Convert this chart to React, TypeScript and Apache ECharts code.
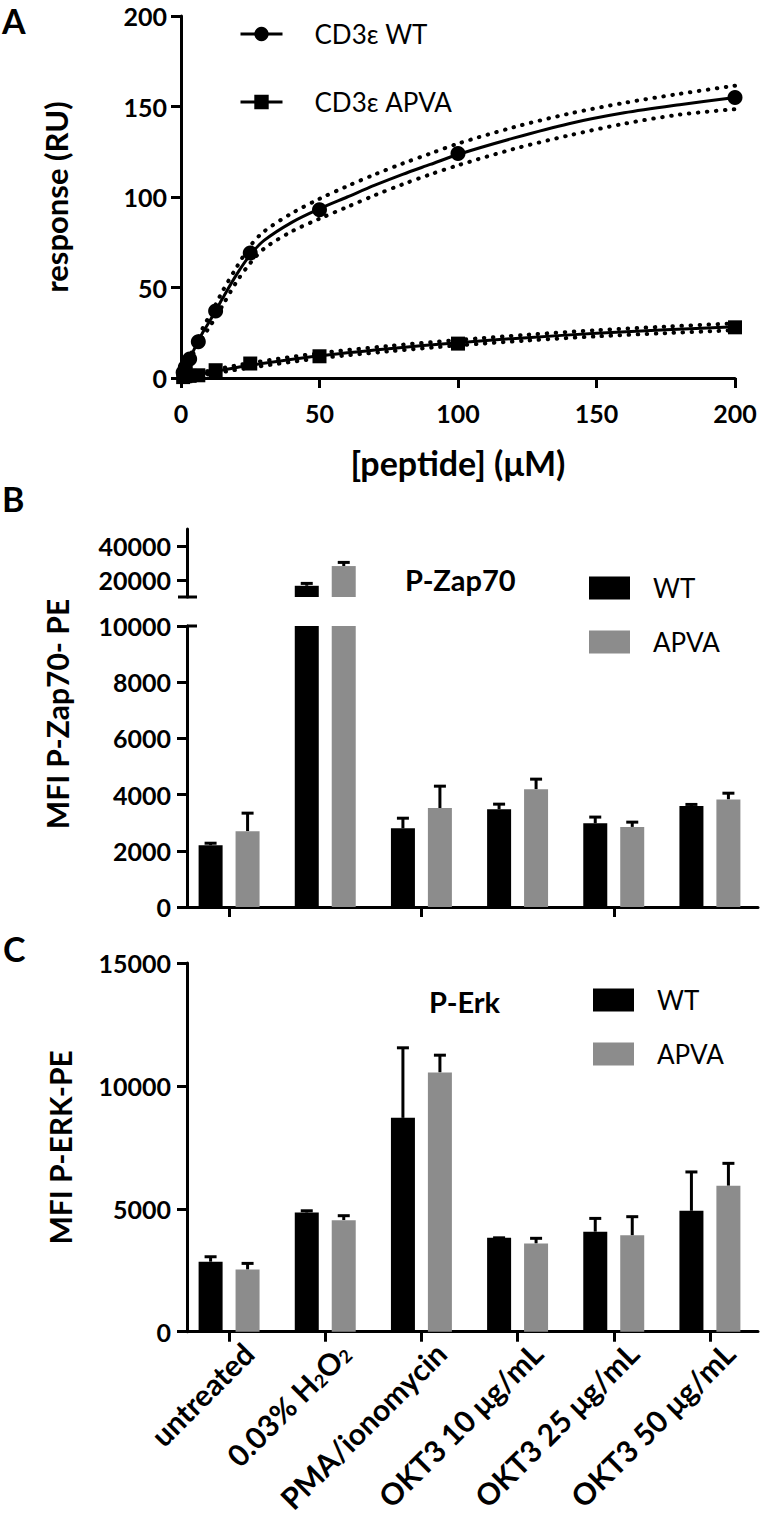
import React, { useEffect, useRef } from 'react';
import * as echarts from 'echarts';

const FONT = 'Lato';

// ---------- Panel A : binding data ----------
const concA = [0.78, 1.56, 3.125, 6.25, 12.5, 25, 50, 100, 200];
const wtResp = [3, 6, 10.5, 20, 37, 69, 93, 124, 155];
const apvaResp = [0.5, 1, 1.2, 1.5, 4.3, 8, 12, 19, 28];

// fitted curves and confidence bands
const wtFitX = [0, 1, 2, 3.125, 4.5, 6.25, 8, 10, 12.5, 15, 20, 25, 30, 40, 50, 60, 70, 80, 90, 100, 120, 140, 160, 180, 200];
const wtFit = [0, 3.5, 7, 10.5, 15, 20.5, 25.5, 30.5, 37, 44, 57, 68, 76, 86, 93.5, 100, 106.5, 112.5, 118, 123.5, 132.5, 140.5, 146.5, 151, 155];
const wtFitHi = [0, 4, 8, 11.5, 16.5, 22.5, 28, 33.5, 40.5, 48, 61, 73, 81, 91, 99, 106, 112.5, 118.5, 124, 129.5, 138.5, 146, 152, 157, 161.5];
const wtFitLo = [0, 3, 6, 9.5, 13.5, 18.5, 23, 27.5, 33.5, 40, 53, 63.5, 71.5, 81, 88, 94.5, 101, 107, 112.5, 117.5, 126.5, 134, 140.5, 145.5, 148.5];

const apvaFitX = [0, 6.25, 12.5, 25, 50, 75, 100, 125, 150, 175, 200];
const apvaFit = [0, 1.9, 3.7, 7, 12.3, 16.2, 19.5, 22.3, 24.7, 26.6, 28.3];
const apvaFitHi = [0, 2.6, 4.7, 8.3, 13.7, 17.7, 21, 23.9, 26.4, 28.4, 30.2];
const apvaFitLo = [0, 1.2, 2.7, 5.7, 10.9, 14.7, 18, 20.7, 23, 24.8, 26.4];

const ticksA = [0, 50, 100, 150, 200];

// ---------- Panels B and C ----------
const categories = ['untreated', '0.03% H2O2', 'PMA/ionomycin', 'OKT3 10 μg/mL', 'OKT3 25 μg/mL', 'OKT3 50 μg/mL'];

const zapWT = [2200, 16600, 2800, 3480, 2980, 3590];
const zapWTErr = [70, 1400, 360, 180, 220, 60];
const zapAPVA = [2700, 28200, 3520, 4190, 2850, 3830];
const zapAPVAErr = [640, 2150, 780, 360, 170, 220];

const erkWT = [2850, 4850, 8700, 3820, 4070, 4920];
const erkWTErr = [200, 70, 2850, 0, 540, 1580];
const erkAPVA = [2530, 4540, 10550, 3590, 3920, 5940];
const erkAPVAErr = [250, 180, 700, 210, 760, 910];

const zapBreak = 10000;
const zapUpperTicks = [20000, 40000];

const BLACK = '#000000';
const GREY = '#8c8c8c';

// layout constants
const W = 760;
const H = 1516;
const gridA = { left: 181, top: 16, width: 554, height: 362 };
const gridBUp = { left: 181, top: 529, width: 577, height: 68 };
const gridBLo = { left: 181, top: 626, width: 577, height: 281 };
const gridC = { left: 181, top: 963, width: 577, height: 372 };
const axisX = 187; // y-axis line x for B and C
const BAR_W = 24;
const BAR_OFF = 18.5;

const axisLine = { show: true, onZero: false, lineStyle: { color: BLACK, width: 3 } };
const axisTick = { show: true, length: 10, lineStyle: { color: BLACK, width: 3 } };
const plain = (v: number) => String(v);
const tickLabel = { color: BLACK, fontFamily: FONT, fontWeight: 'bold' as const, fontSize: 25, formatter: plain };

function zip(xs: number[], ys: number[]) {
  return xs.map((x, i) => [x, ys[i]]);
}

function errData(vals: number[], errs: number[], keep: (v: number) => boolean) {
  const out: any[] = [];
  vals.forEach((v, i) => {
    if (keep(v)) out.push([i, v, v + errs[i]]);
  });
  return out;
}

function errSeries(xi: number, yi: number, data: any[], offset: number) {
  return {
    type: 'custom',
    xAxisIndex: xi,
    yAxisIndex: yi,
    z: 1,
    silent: true,
    data,
    renderItem: (params: any, api: any) => {
      const base = api.coord([api.value(0), api.value(1)]);
      const top = api.coord([api.value(0), api.value(2)]);
      const x = base[0] + offset;
      const style = { stroke: BLACK, lineWidth: 3 };
      return {
        type: 'group',
        children: [
          { type: 'line', shape: { x1: x, y1: base[1], x2: x, y2: top[1] }, style },
          { type: 'line', shape: { x1: x - 6, y1: top[1], x2: x + 6, y2: top[1] }, style },
        ],
      };
    },
  };
}

function barSeries(name: string, xi: number, yi: number, data: any[], color: string) {
  return {
    name,
    type: 'bar',
    xAxisIndex: xi,
    yAxisIndex: yi,
    data,
    barWidth: BAR_W,
    barGap: '54%',
    z: 2,
    itemStyle: { color },
    clip: true,
  };
}

function curve(xs: number[], ys: number[], dotted: boolean) {
  return {
    type: 'line',
    xAxisIndex: 0,
    yAxisIndex: 0,
    data: zip(xs, ys),
    showSymbol: false,
    smooth: 0.3,
    silent: true,
    z: 3,
    lineStyle: dotted
      ? { color: BLACK, width: 4, type: [0.5, 8.5], cap: 'round' }
      : { color: BLACK, width: 3 },
  };
}

const subLabel = (v: string) => v.replace('H2O2', 'H{s|2}O{s|2}');

const option: any = {
  animation: false,
  backgroundColor: '#ffffff',
  textStyle: { fontFamily: FONT, color: BLACK },
  grid: [
    { ...gridA, containLabel: false },
    { ...gridBUp, containLabel: false },
    { ...gridBLo, containLabel: false },
    { ...gridC, containLabel: false },
  ],
  title: [
    { text: 'P-Zap70', left: 405, top: 565, padding: 0, textStyle: { fontFamily: FONT, fontWeight: 'bold', fontSize: 29, color: BLACK } },
    { text: 'P-Erk', left: 429, top: 987, padding: 0, textStyle: { fontFamily: FONT, fontWeight: 'bold', fontSize: 29, color: BLACK } },
  ],
  legend: [
    {
      left: 239,
      top: 21,
      orient: 'vertical',
      itemWidth: 42,
      itemHeight: 18,
      itemGap: 42,
      padding: 0,
      data: ['CD3ε WT', 'CD3ε APVA'],
      lineStyle: { opacity: 1, width: 3, color: BLACK },
      textStyle: { fontFamily: FONT, fontSize: 26, color: BLACK, padding: [0, 0, 0, 27] },
    },
    {
      left: 589,
      top: 575,
      orient: 'vertical',
      itemWidth: 41,
      itemHeight: 23,
      itemGap: 28,
      padding: 0,
      icon: 'rect',
      data: ['WT', 'APVA'],
      textStyle: { fontFamily: FONT, fontSize: 26, color: BLACK, padding: [0, 0, 0, 18] },
    },
    {
      left: 593,
      top: 987,
      orient: 'vertical',
      itemWidth: 41,
      itemHeight: 23,
      itemGap: 28,
      padding: 0,
      icon: 'rect',
      data: ['WT', 'APVA'],
      textStyle: { fontFamily: FONT, fontSize: 26, color: BLACK, padding: [0, 0, 0, 18] },
    },
  ],
  xAxis: [
    {
      gridIndex: 0,
      type: 'value',
      min: ticksA[0],
      max: ticksA[ticksA.length - 1],
      interval: ticksA[1] - ticksA[0],
      axisLine,
      axisTick,
      axisLabel: { ...tickLabel, margin: 22 },
      splitLine: { show: false },
      name: '[peptide] (μM)',
      nameLocation: 'middle',
      nameGap: 67,
      nameTextStyle: { fontFamily: FONT, fontWeight: 'bold', fontSize: 34, color: BLACK },
    },
    { gridIndex: 1, type: 'category', data: categories, show: false },
    {
      gridIndex: 2,
      type: 'category',
      data: categories,
      axisLine,
      axisTick: { ...axisTick, alignWithLabel: true },
      axisLabel: { show: false },
      splitLine: { show: false },
    },
    {
      gridIndex: 3,
      type: 'category',
      data: categories,
      axisLine,
      axisTick: { ...axisTick, alignWithLabel: true },
      axisLabel: {
        color: BLACK,
        fontFamily: FONT,
        fontWeight: 'bold',
        fontSize: 30,
        rotate: 45,
        margin: 14,
        interval: 0,
        verticalAlign: 'top',
        padding: [0, -12, 0, 0],
        formatter: subLabel,
        rich: { s: { fontFamily: FONT, fontWeight: 'bold', fontSize: 18, lineHeight: 8, verticalAlign: 'bottom', color: BLACK } },
      },
      splitLine: { show: false },
    },
  ],
  yAxis: [
    {
      gridIndex: 0,
      type: 'value',
      min: 0,
      max: 200,
      interval: 50,
      axisLine,
      axisTick,
      axisLabel: { ...tickLabel, margin: 14, lineHeight: 20 },
      splitLine: { show: false },
      name: 'response (RU)',
      nameLocation: 'middle',
      nameGap: 110,
      nameTextStyle: { fontFamily: FONT, fontWeight: 'bold', fontSize: 31, color: BLACK },
    },
    {
      gridIndex: 1,
      type: 'value',
      min: zapBreak,
      max: 50000,
      offset: -6,
      axisLine,
      axisTick: { ...axisTick, customValues: zapUpperTicks },
      axisLabel: { ...tickLabel, margin: 16, customValues: zapUpperTicks },
      splitLine: { show: false },
    },
    {
      gridIndex: 2,
      type: 'value',
      min: 0,
      max: zapBreak,
      interval: 2000,
      offset: -6,
      axisLine,
      axisTick,
      axisLabel: { ...tickLabel, margin: 16 },
      splitLine: { show: false },
    },
    {
      gridIndex: 3,
      type: 'value',
      min: 0,
      max: 15000,
      interval: 5000,
      offset: -6,
      axisLine,
      axisTick,
      axisLabel: { ...tickLabel, margin: 16 },
      splitLine: { show: false },
      name: 'MFI P-ERK-PE',
      nameLocation: 'middle',
      nameGap: 112,
      nameTextStyle: { fontFamily: FONT, fontWeight: 'bold', fontSize: 30, color: BLACK },
    },
  ],
  graphic: [
    { type: 'text', left: 2, top: 3, style: { text: 'A', fontFamily: FONT, fontWeight: 'bold', fontSize: 34, fill: BLACK } },
    { type: 'text', left: 2, top: 481, style: { text: 'B', fontFamily: FONT, fontWeight: 'bold', fontSize: 34, fill: BLACK } },
    { type: 'text', left: 3, top: 931, style: { text: 'C', fontFamily: FONT, fontWeight: 'bold', fontSize: 34, fill: BLACK } },
    {
      type: 'text',
      x: 57,
      y: (gridBUp.top + gridBLo.top + gridBLo.height) / 2 - 4,
      rotation: Math.PI / 2,
      style: { text: 'MFI P-Zap70- PE', fontFamily: FONT, fontWeight: 'bold', fontSize: 30, fill: BLACK, align: 'center', verticalAlign: 'middle' },
    },
    {
      type: 'line',
      shape: { x1: axisX - 9, y1: gridBUp.top + gridBUp.height, x2: axisX + 10, y2: gridBUp.top + gridBUp.height },
      style: { stroke: BLACK, lineWidth: 3 },
    },
    {
      type: 'line',
      shape: { x1: axisX, y1: gridBLo.top, x2: axisX + 10, y2: gridBLo.top },
      style: { stroke: BLACK, lineWidth: 3 },
    },
  ],
  series: [
    // Panel A
    curve(wtFitX, wtFitHi, true),
    curve(wtFitX, wtFitLo, true),
    curve(apvaFitX, apvaFitHi, true),
    curve(apvaFitX, apvaFitLo, true),
    curve(wtFitX, wtFit, false),
    curve(apvaFitX, apvaFit, false),
    {
      name: 'CD3ε WT',
      type: 'line',
      xAxisIndex: 0,
      yAxisIndex: 0,
      data: zip(concA, wtResp),
      symbol: 'circle',
      symbolSize: 15,
      showSymbol: true,
      showAllSymbol: true,
      z: 5,
      itemStyle: { color: BLACK },
      lineStyle: { opacity: 0, width: 0 },
    },
    {
      name: 'CD3ε APVA',
      type: 'line',
      xAxisIndex: 0,
      yAxisIndex: 0,
      data: zip(concA, apvaResp),
      symbol: 'rect',
      symbolSize: 14,
      showSymbol: true,
      showAllSymbol: true,
      z: 5,
      itemStyle: { color: BLACK },
      lineStyle: { opacity: 0, width: 0 },
    },
    // Panel B upper segment
    barSeries('WT', 1, 1, zapWT.map((v) => (v > zapBreak ? v : '-')), BLACK),
    barSeries('APVA', 1, 1, zapAPVA.map((v) => (v > zapBreak ? v : '-')), GREY),
    errSeries(1, 1, errData(zapWT, zapWTErr, (v) => v > zapBreak), -BAR_OFF),
    errSeries(1, 1, errData(zapAPVA, zapAPVAErr, (v) => v > zapBreak), BAR_OFF),
    // Panel B lower segment
    barSeries('WT', 2, 2, zapWT, BLACK),
    barSeries('APVA', 2, 2, zapAPVA, GREY),
    errSeries(2, 2, errData(zapWT, zapWTErr, (v) => v <= zapBreak), -BAR_OFF),
    errSeries(2, 2, errData(zapAPVA, zapAPVAErr, (v) => v <= zapBreak), BAR_OFF),
    // Panel C
    barSeries('WT', 3, 3, erkWT, BLACK),
    barSeries('APVA', 3, 3, erkAPVA, GREY),
    errSeries(3, 3, errData(erkWT, erkWTErr, () => true), -BAR_OFF),
    errSeries(3, 3, errData(erkAPVA, erkAPVAErr, () => true), BAR_OFF),
  ],
};

export default function App() {
  const ref = useRef<HTMLDivElement>(null);
  useEffect(() => {
    if (!ref.current) return;
    const chart = echarts.init(ref.current, null, { renderer: 'svg' });
    chart.setOption(option);
    return () => chart.dispose();
  }, []);
  return (
    <div
      ref={ref}
      style={{ position: 'absolute', left: 0, top: 0, width: W, height: H, background: '#fff' }}
    />
  );
}
